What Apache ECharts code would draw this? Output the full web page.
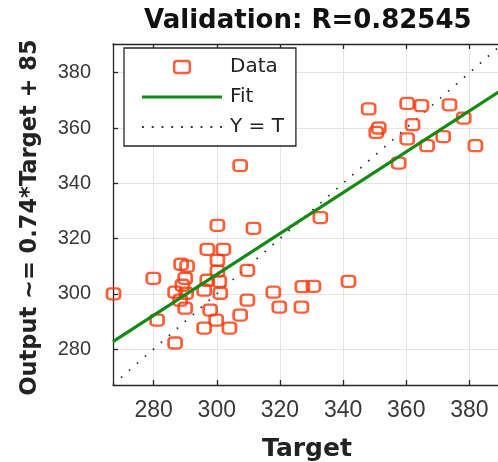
<!DOCTYPE html>
<html>
<head>
<meta charset="utf-8">
<script src="https://cdn.jsdelivr.net/npm/echarts@6/dist/echarts.min.js"></script>
<style>html,body{margin:0;padding:0;background:#fff}#c{width:498px;height:462px}</style>
</head>
<body>
<div id="c"></div>
<script>
// ---- data ----
const targets = [267.3,279.9,281.1,286.8,288.7,290.6,290.0,289.1,286.8,290.3,288.4,290.0,
  297.0,302.1,300.2,311.6,300.2,300.2,297.0,300.8,296.0,301.1,297.9,299.8,296.0,304.0,
  307.4,309.7,309.7,317.9,319.8,327.1,330.6,341.7,326.8,332.8,307.4,
  348.1,360.3,364.8,373.7,378.2,351.3,350.5,362.0,360.3,366.6,371.7,381.9,357.6];
const outputs = [300.0,305.6,290.5,282.2,310.7,310.0,305.6,303.1,300.6,300.2,297.7,294.8,
  316.1,316.1,324.8,323.7,312.1,308.2,304.9,304.5,301.3,300.2,294.1,290.5,287.6,287.6,
  292.3,308.5,297.7,300.6,295.2,302.6,302.7,304.5,295.2,327.6,346.4,
  366.9,368.9,368.1,368.4,363.6,360.0,358.4,361.2,356.1,353.6,356.9,353.6,347.3];
const fitX = [267.14, 390];
const fitY = [282.7, 373.6];
const ytX = [267.14, 390];
const ytY = [267.14, 390];
const xTicks = [280, 300, 320, 340, 360, 380];
const yTicks = [280, 300, 320, 340, 360, 380];
const titleText = 'Validation: R=0.82545';
const xName = 'Target';
const yName = 'Output ~= 0.74*Target + 85';
const legendNames = ['Data', 'Fit', 'Y = T'];

const RED = '#fa3608', GREEN = '#138a13', INK = '#262626', DOT = '#333';
const scatterData = targets.map((t, i) => [t, outputs[i]]);
const fitData = fitX.map((x, i) => [x, fitY[i]]);
const ytData = ytX.map((x, i) => [x, ytY[i]]);

// legend icons (decoration only)
let dotPath = 'path://';
for (let k = 0; k < 9; k++) { const x = k * 9.3; dotPath += 'M' + x.toFixed(1) + ',0h1.8v1.8h-1.8z '; }

const chart = echarts.init(document.getElementById('c'), null, {renderer: 'canvas'});

chart.setOption({
  animation: false,
  backgroundColor: '#fff',
  title: {
    text: titleText, left: 144, top: 8, padding: 0,
    textStyle: {fontFamily: 'DejaVu Sans', fontWeight: 'bold', fontSize: 26, color: '#111'}
  },
  grid: {left: 113, top: 44, right: -3, bottom: 77, containLabel: false, outerBoundsMode: 'none'},
  legend: {
    orient: 'vertical', left: 124, top: 48,
    padding: [9, 12, 9, 18],
    itemWidth: 80, itemHeight: 12, itemGap: 10,
    backgroundColor: '#fff', borderColor: INK, borderWidth: 1.3, borderRadius: 0,
    textStyle: {fontFamily: 'DejaVu Sans', fontSize: 20, color: '#222', lineHeight: 20, padding: [0, 0, 0, 3]},
    data: [
      {name: legendNames[0], icon: 'path://M3,0 H14 Q17,0 17,3 V10 Q17,13 14,13 H3 Q0,13 0,10 V3 Q0,0 3,0 Z',
       itemStyle: {color: 'rgba(0,0,0,0)', borderColor: RED, borderWidth: 2.5}},
      {name: legendNames[1], icon: 'path://M0,0 H80 V3.2 H0 Z',
       itemStyle: {color: GREEN, borderWidth: 0}},
      {name: legendNames[2], icon: dotPath,
       itemStyle: {color: DOT, borderWidth: 0}}
    ]
  },
  xAxis: [{
    type: 'value', min: 267.14, max: 390, interval: 20,
    name: xName, nameLocation: 'middle', nameGap: 52,
    nameTextStyle: {fontFamily: 'DejaVu Sans', fontWeight: 'bold', fontSize: 25, color: '#222'},
    axisLine: {show: true, onZero: false, lineStyle: {color: INK, width: 1.3}},
    axisTick: {show: true, inside: true, length: 5, lineStyle: {color: INK, width: 1.3}, customValues: xTicks},
    axisLabel: {customValues: xTicks, fontFamily: 'Liberation Sans', fontSize: 23, color: '#383838', margin: 14},
    splitLine: {show: true, lineStyle: {color: '#e4e4e4', width: 1}},
  }, {
    type: 'value', position: 'top', min: 267.14, max: 390,
    axisLine: {show: true, onZero: false, lineStyle: {color: INK, width: 1.3}},
    axisTick: {show: true, inside: true, length: 5, lineStyle: {color: INK, width: 1.3}, customValues: xTicks},
    axisLabel: {show: false}, splitLine: {show: false}
  }],
  yAxis: [{
    type: 'value', min: 267, max: 390.4,
    name: yName, nameLocation: 'middle', nameGap: 71, nameRotate: 90,
    nameTextStyle: {fontFamily: 'DejaVu Sans', fontWeight: 'bold', fontSize: 22.5, color: '#222', padding: [0, 6, 0, 0]},
    axisLine: {show: true, onZero: false, lineStyle: {color: INK, width: 1.3}},
    axisTick: {show: true, inside: true, length: 5, lineStyle: {color: INK, width: 1.3}, customValues: yTicks},
    axisLabel: {customValues: yTicks, fontFamily: 'Liberation Sans', fontSize: 20, color: '#383838', margin: 22},
    splitLine: {show: true, lineStyle: {color: '#e4e4e4', width: 1}},
  }],
  series: [
    {
      name: legendNames[0], type: 'scatter', data: scatterData, z: 3,
      symbol: 'roundRect', symbolSize: [13, 11],
      itemStyle: {color: 'rgba(0,0,0,0)', borderColor: RED, borderWidth: 2.5}
    },
    {
      name: legendNames[1], type: 'line', data: fitData, z: 4, symbol: 'none',
      lineStyle: {color: GREEN, width: 3.2}, itemStyle: {color: GREEN}
    },
    {
      name: legendNames[2], type: 'line', data: ytData, z: 2, symbol: 'none',
      lineStyle: {color: DOT, width: 1.8, type: [1.6, 9]}, itemStyle: {color: DOT}
    }
  ]
});
</script>
</body>
</html>
